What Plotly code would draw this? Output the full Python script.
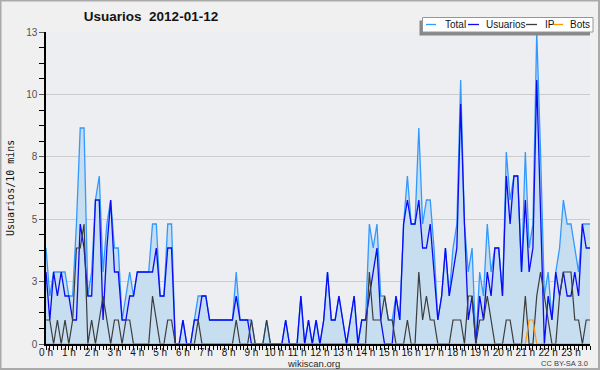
import plotly.graph_objects as go

# 10-minute slots over the day (144 slots)
slots = list(range(144))

total = [4, 2, 3, 3, 3, 3, 2, 2, 5, 9, 9, 2, 3, 6, 7, 3, 5, 6, 4, 4, 1, 2, 3, 2,
         3, 3, 3, 3, 5, 5, 2, 2, 5, 5, 0, 0, 1, 0, 0, 1, 2, 2, 2, 1, 1, 1, 1, 1,
         1, 1, 3, 1, 1, 1, 1, 0, 0, 0, 1, 0, 0, 0, 0, 1, 0, 0, 0, 2, 0, 1, 0, 1,
         0, 1, 3, 1, 1, 2, 1, 0, 1, 2, 0, 1, 1, 5, 4, 5, 2, 2, 1, 1, 2, 1, 5, 7,
         5, 5, 9, 5, 6, 6, 4, 1, 2, 4, 2, 4, 5, 11, 5, 3, 4, 0, 3, 2, 5, 3, 4, 4,
         2, 8, 6, 7, 7, 3, 8, 4, 5, 13, 8, 2, 3, 1, 3, 4, 6, 5, 5, 4, 3, 5, 5, 5]

usuarios = [3, 1, 3, 2, 3, 2, 2, 1, 1, 5, 4, 2, 2, 6, 6, 1, 4, 6, 3, 3, 1, 1, 2, 2,
            3, 3, 3, 3, 3, 4, 2, 2, 4, 4, 0, 0, 1, 0, 0, 1, 1, 2, 2, 1, 1, 1, 1, 1,
            1, 1, 2, 1, 1, 1, 0, 0, 0, 0, 0, 0, 0, 0, 0, 1, 0, 0, 0, 2, 0, 1, 0, 1,
            0, 1, 3, 1, 1, 2, 1, 0, 1, 2, 0, 1, 1, 2, 3, 4, 1, 0, 0, 0, 2, 1, 5, 6,
            5, 5, 6, 4, 4, 5, 3, 1, 2, 4, 2, 3, 4, 10, 5, 1, 2, 0, 2, 1, 3, 2, 4, 4,
            2, 7, 5, 7, 7, 3, 6, 3, 4, 11, 5, 0, 2, 1, 3, 2, 3, 2, 2, 3, 2, 5, 4, 4]

ip = [1, 1, 0, 1, 0, 1, 0, 1, 4, 4, 5, 0, 1, 0, 1, 2, 1, 0, 1, 1, 0, 1, 1, 0,
      0, 0, 0, 0, 2, 1, 0, 0, 1, 1, 0, 0, 0, 0, 0, 0, 1, 0, 0, 0, 0, 0, 0, 0,
      0, 0, 1, 0, 0, 0, 1, 0, 0, 0, 1, 0, 0, 0, 0, 0, 0, 0, 0, 0, 0, 0, 0, 0,
      0, 0, 0, 0, 0, 0, 0, 0, 0, 0, 0, 0, 0, 3, 1, 1, 1, 2, 1, 1, 0, 0, 0, 1,
      0, 0, 3, 1, 2, 1, 1, 0, 0, 0, 0, 1, 1, 1, 0, 2, 2, 0, 1, 1, 2, 1, 0, 0,
      0, 1, 1, 0, 0, 0, 2, 0, 0, 2, 3, 2, 1, 0, 0, 2, 3, 3, 3, 1, 1, 0, 1, 1]

bots = [0] * 127 + [1, 1] + [0] * 15

hour_ticks = list(range(0, 144, 6))
hour_labels = [f"{h} h" for h in range(24)]
y_tickvals = [0, 2.6, 5.2, 7.8, 10.4, 13]
y_ticktext = ["0", "3", "5", "8", "10", "13"]
y_minor = [round(k * 0.65, 2) for k in range(21)]

C_TOTAL = "rgb(51,153,255)"
C_USERS = "rgb(10,10,245)"
C_IP = "rgb(60,60,60)"
C_BOTS = "rgb(255,153,0)"

fig = go.Figure()
fig.add_trace(go.Scatter(x=slots, y=total, name="Total", mode="lines",
                         line=dict(color=C_TOTAL, width=1.3),
                         fill="tozeroy", fillcolor="rgb(199,221,240)"))
fig.add_trace(go.Scatter(x=slots, y=usuarios, name="Usuarios", mode="lines",
                         line=dict(color=C_USERS, width=1.3)))
fig.add_trace(go.Scatter(x=slots, y=ip, name="IP", mode="lines",
                         line=dict(color=C_IP, width=1.2)))
fig.add_trace(go.Scatter(x=slots, y=bots, name="Bots", mode="lines",
                         line=dict(color=C_BOTS, width=1.2)))

L, R, T, B = 46, 590, 32, 344
PW, PH = R - L, B - T


def px(xp):
    return (xp - L) / PW


def py(yp):
    return (B - yp) / PH


shapes = []
annotations = []

# outer frame
shapes.append(dict(type="rect", xref="paper", yref="paper",
                   x0=px(0.5), x1=px(599), y0=py(0.5), y1=py(369),
                   line=dict(color="rgb(170,170,170)", width=2), layer="below"))

# legend box with shadow
shapes.append(dict(type="rect", xref="paper", yref="paper",
                   x0=px(419.5), x1=px(590), y0=py(20.5), y1=py(35.5),
                   line=dict(width=0), fillcolor="rgb(136,136,136)", layer="above"))
shapes.append(dict(type="rect", xref="paper", yref="paper",
                   x0=px(422.5), x1=px(593), y0=py(17.5), y1=py(32),
                   line=dict(color="rgb(150,150,150)", width=1),
                   fillcolor="white", layer="above"))
legend_items = [
    ("Total", C_TOTAL, 426, 436, 442.5),
    ("Usuarios", C_USERS, 468, 479, 483.5),
    ("IP", C_IP, 526, 537, 542.5),
    ("Bots", C_BOTS, 552.5, 563, 567.5),
]
for name, col, lx0, lx1, tx in legend_items:
    shapes.append(dict(type="line", xref="paper", yref="paper",
                       x0=px(lx0), x1=px(lx1), y0=py(24.5), y1=py(24.5),
                       line=dict(color=col, width=1.3), layer="above"))
    annotations.append(dict(text=name, xref="paper", yref="paper",
                            x=px(tx), y=py(24.5), xanchor="left", yanchor="middle",
                            showarrow=False,
                            font=dict(family="Liberation Sans, Arial", size=10,
                                      color="rgb(20,20,20)")))

annotations.append(dict(text="Usuarios/10 mins", xref="paper", yref="paper",
                        x=px(10), y=0.5, textangle=-90, showarrow=False,
                        xanchor="center", yanchor="middle",
                        font=dict(family="DejaVu Sans Mono", size=10,
                                  color="rgb(20,20,20)")))
annotations.append(dict(text="wikiscan.org", xref="paper", yref="paper",
                        x=px(313), y=py(363), showarrow=False,
                        xanchor="center", yanchor="middle",
                        font=dict(family="Liberation Sans, Arial", size=9.5,
                                  color="rgb(40,40,40)")))
annotations.append(dict(text="CC BY-SA 3.0", xref="paper", yref="paper",
                        x=px(590), y=py(363.5), showarrow=False,
                        xanchor="right", yanchor="middle",
                        font=dict(family="Liberation Sans, Arial", size=7.5,
                                  color="rgb(60,60,60)")))

fig.update_layout(
    width=600, height=370,
    margin=dict(l=L, r=600 - R, t=T, b=370 - B, pad=0),
    paper_bgcolor="rgb(240,240,240)",
    plot_bgcolor="rgb(236,238,241)",
    showlegend=False,
    title=dict(text="<b>Usuarios\u00a0\u00a02012-01-12</b>", xref="container", yref="container",
               x=151 / 600, y=1 - 16 / 370, xanchor="center", yanchor="middle",
               font=dict(family="Liberation Sans, Arial", size=13.5, color="rgb(20,20,20)")),
    shapes=shapes,
    annotations=annotations,
    xaxis=dict(range=[0, 143], tickmode="array", tickvals=hour_ticks, ticktext=hour_labels,
               ticks="outside", ticklen=4, tickcolor="black", tickwidth=1,
               ticklabelstandoff=-6,
               minor=dict(tickmode="array", tickvals=slots, ticks="outside",
                          ticklen=4, tickcolor="black", tickwidth=1, showgrid=False),
               showline=True, linecolor="black", linewidth=1.5, mirror=False,
               showgrid=False, zeroline=False, fixedrange=True,
               tickfont=dict(family="Liberation Sans, Arial", size=10, color="rgb(20,20,20)")),
    yaxis=dict(range=[0, 13], tickmode="array", tickvals=y_tickvals, ticktext=y_ticktext,
               ticks="outside", ticklen=5, tickcolor="rgb(90,90,90)", tickwidth=1,
               minor=dict(tickmode="array", tickvals=y_minor, ticks="outside",
                          ticklen=5, tickcolor="black", tickwidth=1, showgrid=False),
               showline=True, linecolor="black", linewidth=1.5,
               showgrid=True, gridcolor="rgb(204,204,204)", gridwidth=1,
               zeroline=False, fixedrange=True,
               tickfont=dict(family="Liberation Sans, Arial", size=10, color="rgb(80,80,80)")),
)

fig.write_html("out.html", config={"displayModeBar": False},
               post_script="document.body.style.margin='0';document.body.style.overflow='hidden';")
